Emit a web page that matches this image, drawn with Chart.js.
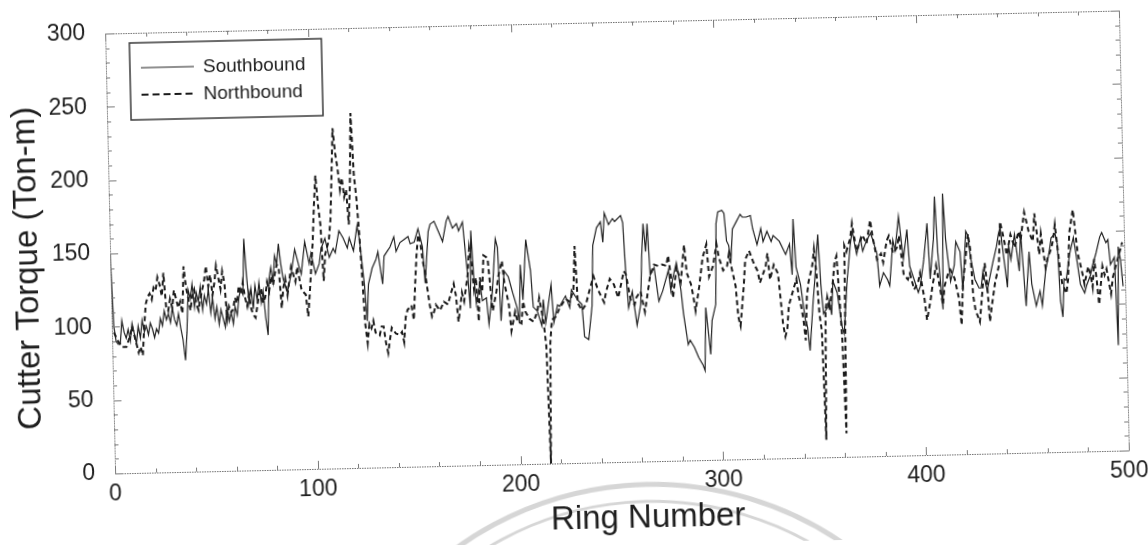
<!DOCTYPE html>
<html>
<head>
<meta charset="utf-8">
<script src="https://cdn.jsdelivr.net/npm/chart.js@4.4.1/dist/chart.umd.min.js"></script>
<style>
  html, body { margin: 0; padding: 0; background: #fff; overflow: hidden; }
  #wrap { width: 1148px; height: 545px; }
  #c { display: block; transform: rotate(-1.3deg); transform-origin: 617px 242px; filter: blur(0.3px); }
</style>
</head>
<body>
<div id="wrap"><canvas id="c" width="1148" height="545"></canvas></div>
<script>
// Cutter torque per ring, southbound drive
const southRings = [
  0,1,2,3,4,5,6,7,8,9,
  10,11,12,13,14,15,16,17,18,19,
  20,21,22,23,24,25,26,27,28,29,
  30,31,32,33,34,35,36,37,38,39,
  40,41,42,43,44,45,46,47,48,49,
  50,51,52,53,54,55,56,57,58,59,
  60,61,62,63,64,65,66,67,68,69,
  70,71,72,73,74,75,76,77,78,79,
  80,81,82,83,84,85,87,89,91,93,
  94,96,98,99,101,103,104,106,108,110,
  111,113,115,117,118,120,122,123,125,126,
  127,129,131,132,134,135,137,138,140,141,
  143,145,147,148,150,152,154,155,157,158,
  160,162,164,166,167,169,171,172,174,176,
  177,178,179,180,182,183,185,186,188,190,
  191,192,194,196,198,200,201,202,203,205,
  207,208,210,212,213,214,217,218,220,221,
  224,226,227,230,232,233,235,237,238,240,
  242,243,244,246,248,249,252,253,254,255,
  257,259,261,262,263,264,265,266,268,270,
  272,275,276,277,279,281,282,284,285,287,
  289,291,292,293,295,296,298,299,300,302,
  303,304,305,306,307,309,311,312,314,316,
  317,319,321,322,324,326,327,330,333,335,
  336,337,338,340,342,343,344,346,347,349,
  350,351,353,354,355,356,358,360,361,363,
  365,366,368,370,371,373,375,376,378,379,
  381,383,384,386,387,389,391,393,394,396,
  398,399,401,403,404,406,407,408,410,411,
  412,414,416,417,419,420,422,423,424,426,
  428,429,430,432,434,435,437,438,439,440,
  442,443,444,446,448,449,451,453,454,456,
  458,459,461,463,464,466,467,468,469,470,
  471,473,475,476,478,480,481,483,484,486,
  488,489,491,492,493,495,496,497,498,499
];
const southTorque = [
  150,100,90,88,88,104,96,92,98,90,
  102,95,88,100,92,104,96,100,94,102,
  98,92,98,95,105,100,110,104,108,102,
  112,104,100,108,98,90,76,95,124,118,
  128,112,122,116,126,110,120,114,124,108,
  118,104,112,100,110,104,98,112,102,108,
  100,112,106,118,124,120,158,132,114,124,
  110,126,116,128,114,122,104,92,130,138,
  128,146,140,154,140,130,121,133,150,138,
  133,155,140,147,133,140,150,157,144,150,
  147,162,157,150,157,148,165,156,125,100,
  125,136,142,147,125,144,148,150,157,147,
  153,155,157,152,153,162,150,125,160,165,
  167,160,153,167,170,162,165,160,166,130,
  107,160,128,110,124,112,114,96,118,154,
  148,98,132,128,117,107,96,136,112,153,
  132,107,104,94,112,96,122,96,108,107,
  114,106,118,111,108,86,84,107,148,160,
  164,150,170,162,166,164,168,163,128,105,
  116,93,107,140,162,143,162,127,132,109,
  116,130,116,124,135,116,100,79,82,77,
  70,65,61,104,72,95,106,161,169,170,
  168,149,146,136,157,162,167,165,165,166,
  157,146,157,148,155,148,152,148,139,146,
  125,163,130,118,94,89,73,106,120,152,
  118,98,102,107,97,120,112,89,84,120,
  145,154,138,149,140,147,152,148,138,116,
  125,120,116,147,140,163,134,154,129,120,
  111,115,133,158,120,147,176,138,99,178,
  147,118,129,145,138,111,152,149,135,119,
  113,113,124,111,124,130,141,149,154,140,
  113,142,132,149,124,151,100,137,115,100,
  110,100,124,137,146,149,142,103,92,118,
  117,135,146,136,114,108,113,120,126,135,
  146,149,142,144,127,132,72,139,130,112
];

// Cutter torque per ring, northbound drive
const northRings = [
  1,3,5,7,9,10,12,13,14,15,
  16,17,18,19,20,21,22,23,24,25,
  26,27,28,29,30,31,32,33,34,35,
  36,37,38,39,40,41,42,43,44,45,
  46,47,48,49,50,51,52,53,54,55,
  56,57,58,59,60,61,62,63,64,65,
  66,67,68,69,70,71,72,73,74,75,
  76,77,78,79,80,81,82,83,84,85,
  86,87,89,91,92,94,96,97,98,100,
  101,102,103,104,105,106,108,109,110,111,
  112,113,114,115,116,117,118,119,120,121,
  122,123,124,125,126,127,128,129,130,132,
  133,134,135,136,137,138,140,142,143,144,
  145,146,148,149,150,151,152,153,154,155,
  156,157,158,159,160,162,164,166,167,169,
  170,171,173,174,176,177,178,179,180,181,
  182,183,184,186,187,188,190,191,193,194,
  196,197,199,200,202,203,204,206,208,210,
  211,213,214,215,216,217,219,221,224,226,
  228,229,230,232,234,236,238,240,243,244,
  246,248,250,252,253,254,256,258,259,261,
  263,264,266,268,270,272,274,275,276,277,
  279,281,283,284,286,287,288,290,292,294,
  295,297,299,300,302,304,305,306,308,309,
  310,312,313,315,317,319,320,323,324,325,
  327,329,330,331,332,333,334,336,338,339,
  340,341,342,343,344,346,347,348,349,350,
  351,352,353,354,356,357,358,359,360,361,
  362,363,365,366,368,370,371,373,375,376,
  378,380,381,383,384,386,388,389,391,393,
  394,396,398,399,401,402,404,405,407,408,
  410,411,413,414,416,418,419,420,422,423,
  424,425,426,428,429,431,432,433,434,436,
  438,439,441,442,444,446,448,449,450,451,
  453,455,456,457,458,459,461,462,464,465,
  466,468,469,471,472,473,475,476,477,479,
  480,482,483,484,485,486,487,489,490,491,
  493,494,496,498,499
];
const northTorque = [
  96,90,86,86,94,100,88,82,86,80,
  100,115,120,122,118,126,124,133,128,120,
  136,113,110,118,112,124,118,112,116,108,
  140,126,118,110,120,124,114,110,118,124,
  130,140,126,134,120,128,140,132,124,136,
  128,104,112,108,110,118,114,126,120,128,
  118,112,120,110,106,104,112,120,124,114,
  118,128,122,132,126,134,140,136,110,124,
  130,119,138,128,138,122,119,104,120,155,
  180,200,180,166,128,146,156,170,200,232,
  215,205,190,198,185,190,166,195,242,200,
  184,160,130,98,85,98,95,100,92,90,
  96,96,85,78,87,95,91,90,92,85,
  102,107,110,100,124,144,158,153,140,133,
  121,110,102,105,110,106,112,110,115,124,
  116,98,118,112,130,148,137,120,128,98,
  128,118,143,141,122,105,118,128,139,124,
  109,91,104,98,96,111,104,99,97,104,
  113,96,80,0,82,98,100,106,112,110,
  118,148,109,104,108,118,127,118,109,116,
  125,121,112,124,130,128,111,107,112,116,
  102,110,127,134,133,134,133,140,128,111,
  132,122,147,128,120,112,102,118,138,147,
  125,132,147,138,129,132,140,132,118,97,
  91,118,136,142,134,128,120,131,140,122,
  132,126,109,91,83,88,104,113,122,110,
  104,95,80,110,120,131,142,125,98,86,
  12,100,109,100,120,133,137,110,80,16,
  144,140,149,159,140,147,151,145,161,150,
  134,138,132,147,150,138,142,150,123,120,
  124,113,118,124,106,92,106,115,129,120,
  102,115,124,126,120,106,88,115,138,150,
  140,108,98,90,103,130,115,90,100,117,
  128,158,144,135,149,140,151,145,155,164,
  151,144,163,150,135,149,126,132,139,145,
  155,126,115,108,118,149,165,150,135,122,
  114,126,121,112,131,118,100,126,120,124,
  107,118,128,137,142
];

const xTickValues = [0, 100, 200, 300, 400, 500];
const yTickValues = [0, 50, 100, 150, 200, 250, 300];
const xTitle = 'Ring Number';
const yTitle = 'Cutter Torque (Ton-m)';

const FONT = '"Liberation Sans", Arial, Helvetica, sans-serif';
const INK = '#1e1e1e';

const toPoints = (xs, ys) => xs.map((r, i) => ({ x: r, y: ys[i] }));

// Dotted frame with inward major/minor ticks on all four sides
const frameTicks = {
  id: 'frameTicks',
  afterDatasetsDraw(chart) {
    const { ctx, chartArea: a, scales: { x, y } } = chart;
    ctx.save();
    ctx.strokeStyle = '#6e6e6e';
    ctx.lineWidth = 1;
    ctx.setLineDash([1.5, 1]);
    ctx.strokeRect(a.left + 0.5, a.top + 0.5, a.right - a.left, a.bottom - a.top);
    ctx.setLineDash([]);
    ctx.strokeStyle = '#7a7a7a';
    ctx.beginPath();
    for (let v = 0; v <= 500; v += 20) {
      const px = Math.round(x.getPixelForValue(v)) + 0.5;
      const len = v % 100 === 0 ? 8 : 4;
      ctx.moveTo(px, a.bottom); ctx.lineTo(px, a.bottom - len);
      ctx.moveTo(px, a.top); ctx.lineTo(px, a.top + len);
    }
    for (let v = 0; v <= 300; v += 10) {
      const py = Math.round(y.getPixelForValue(v)) + 0.5;
      const len = v % 50 === 0 ? 8 : 4;
      ctx.moveTo(a.left, py); ctx.lineTo(a.left + len, py);
      ctx.moveTo(a.right, py); ctx.lineTo(a.right - len, py);
    }
    ctx.stroke();
    ctx.restore();
  }
};

// Axis titles, placed relative to the plot area
const axisTitles = {
  id: 'axisTitles',
  afterDraw(chart) {
    const { ctx, chartArea: a } = chart;
    ctx.save();
    ctx.fillStyle = INK;
    ctx.font = '33px ' + FONT;
    ctx.textAlign = 'center';
    ctx.textBaseline = 'middle';
    ctx.fillText(xTitle, (a.left + a.right) / 2 + 25, a.bottom + 57);
    ctx.translate(a.left - 82, (a.top + a.bottom) / 2 + 13);
    ctx.rotate(-Math.PI / 2);
    ctx.fillText(yTitle, 0, 0);
    ctx.restore();
  }
};

// Boxed legend in the upper-left corner of the plot
const boxLegend = {
  id: 'boxLegend',
  afterDraw(chart) {
    const { ctx, chartArea: a } = chart;
    const bx = a.left + 24, by = a.top + 10, bw = 192, bh = 77;
    ctx.save();
    ctx.fillStyle = '#fff';
    ctx.fillRect(bx, by, bw, bh);
    ctx.strokeStyle = '#3a3a3a';
    ctx.lineWidth = 1.5;
    ctx.strokeRect(bx, by, bw, bh);
    chart.data.datasets.forEach((ds, i) => {
      const cy = by + 25 + i * 27;
      ctx.strokeStyle = ds.borderColor;
      ctx.lineWidth = ds.borderWidth;
      ctx.setLineDash(i === 0 ? [] : [7, 4]);
      ctx.beginPath();
      ctx.moveTo(bx + 11, cy);
      ctx.lineTo(bx + 64, cy);
      ctx.stroke();
      ctx.setLineDash([]);
      ctx.fillStyle = INK;
      ctx.font = '19px ' + FONT;
      ctx.textBaseline = 'middle';
      ctx.fillText(ds.label, bx + 73, cy + 1);
    });
    ctx.restore();
  }
};

// Faint circular seal printed behind the lower page area
const seal = {
  id: 'seal',
  beforeDraw(chart) {
    const { ctx } = chart;
    ctx.save();
    ctx.strokeStyle = 'rgba(180,180,180,0.55)';
    ctx.lineWidth = 5;
    ctx.beginPath();
    ctx.arc(640, 820, 335, Math.PI * 1.1, Math.PI * 1.9);
    ctx.stroke();
    ctx.lineWidth = 3;
    ctx.beginPath();
    ctx.arc(640, 820, 318, Math.PI * 1.1, Math.PI * 1.9);
    ctx.stroke();
    ctx.restore();
  }
};

new Chart(document.getElementById('c'), {
  type: 'line',
  data: {
    datasets: [
      {
        label: 'Southbound',
        data: toPoints(southRings, southTorque),
        borderColor: '#222222',
        borderWidth: 1.2,
        pointRadius: 0,
        tension: 0,
        fill: false
      },
      {
        label: 'Northbound',
        data: toPoints(northRings, northTorque),
        borderColor: '#1a1a1a',
        borderWidth: 2,
        borderDash: [5, 3.5],
        pointRadius: 0,
        tension: 0,
        fill: false
      }
    ]
  },
  options: {
    responsive: false,
    animation: false,
    devicePixelRatio: 1,
    layout: { padding: { left: 0, top: 22, right: 24, bottom: 0 } },
    plugins: { legend: { display: false }, tooltip: { enabled: false } },
    scales: {
      x: {
        type: 'linear',
        min: 0,
        max: 500,
        afterBuildTicks: s => { s.ticks = xTickValues.map(v => ({ value: v })); },
        afterFit: s => { s.height = 83; s.paddingLeft = 0; s.paddingRight = 0; },
        grid: { display: false, drawTicks: false },
        border: { display: false },
        ticks: { color: INK, padding: 7, maxRotation: 0, autoSkip: false, font: { family: FONT, size: 23 } }
      },
      y: {
        type: 'linear',
        min: 0,
        max: 300,
        afterBuildTicks: s => { s.ticks = yTickValues.map(v => ({ value: v })); },
        afterFit: s => { s.width = 110; s.paddingTop = 0; s.paddingBottom = 0; },
        grid: { display: false, drawTicks: false },
        border: { display: false },
        ticks: { color: INK, padding: 20, font: { family: FONT, size: 23 } }
      }
    }
  },
  plugins: [seal, frameTicks, axisTitles, boxLegend]
});
</script>
</body>
</html>
